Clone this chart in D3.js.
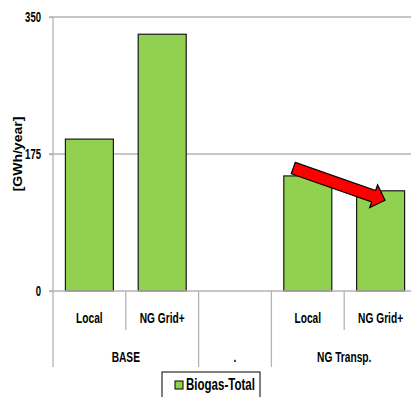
<!DOCTYPE html>
<html>
<head>
<meta charset="utf-8">
<script src="https://cdn.jsdelivr.net/npm/d3@7"></script>
<style>
  html, body { margin: 0; padding: 0; background: #fff; }
  svg { display: block; }
  text { font-family: "Liberation Sans", Arial, sans-serif; font-weight: bold; fill: #000; }
</style>
</head>
<body>
<svg id="chart" width="411" height="397"></svg>
<script>
// Biogas output per scenario and grid option
const categories = ["Local", "NG Grid+", "", "Local", "NG Grid+"];
const groups = [
  { name: "BASE", span: [0, 2] },
  { name: ".", span: [2, 3] },
  { name: "NG Transp.", span: [3, 5] }
];
const biogasTotal = [194, 328, null, 147, 128];
const yTicks = [0, 175, 350];
const seriesName = "Biogas-Total";
const yTitle = "[GWh/year]";
// trend arrow between the two NG Transp. bars: [category position, value]
const arrowFrom = [3.30, 157];
const arrowTo = [4.56, 116];

const svg = d3.select("#chart");
const W = 411, H = 397;
const m = { left: 53, top: 17, right: -6, bottom: 106 };
const x0 = m.left, x1 = W - m.right;
const yBase = H - m.bottom;
const squeeze = 0.68; // condensed lettering

const x = d3.scaleBand().domain(d3.range(categories.length)).range([x0, x1]);
const xPos = d3.scaleLinear().domain([0, categories.length]).range([x0, x1]);
const y = d3.scaleLinear().domain([0, 350]).range([yBase, m.top]);

// condensed text helper
function label(g, tx, ty, str, size, anchor, sx) {
  return g.append("text")
    .attr("transform", `translate(${tx},${ty}) scale(${sx || squeeze},1)`)
    .attr("text-anchor", anchor || "middle")
    .style("font-size", size + "px")
    .text(str);
}

const grey = "#b3b3b3";

// gridlines
svg.append("g").selectAll("line").data(yTicks.filter(d => d > 0)).join("line")
  .attr("x1", x0 - 4).attr("x2", x1).attr("y1", d => y(d)).attr("y2", d => y(d))
  .attr("stroke", grey).attr("stroke-width", 1.3);

// y axis
const yAxis = svg.append("g").attr("transform", `translate(${x0},0)`)
  .call(d3.axisLeft(y).tickValues(yTicks).tickSize(4).tickFormat(() => ""));
yAxis.select(".domain").attr("stroke", grey).attr("stroke-width", 1.3).attr("d", `M0,${y(350)}V${yBase}`);
yAxis.selectAll(".tick line").attr("stroke", grey).attr("stroke-width", 1.3);
const tickLabels = svg.append("g");
yTicks.forEach(t => label(tickLabels, x0 - 12, y(t) + 5, d3.format("d")(t), 14, "end"));

// y title
svg.append("text")
  .attr("transform", `translate(22,${(y(350) + yBase) / 2}) rotate(-90) scale(1,0.85)`)
  .attr("text-anchor", "middle").style("font-size", "14px")
  .text(yTitle);

// bars
const barW = 48;
svg.append("g").selectAll("rect").data(biogasTotal.map((v, i) => ({ v, i })).filter(d => d.v != null)).join("rect")
  .attr("x", d => x(d.i) + (x.bandwidth() - barW) / 2)
  .attr("width", barW)
  .attr("y", d => y(d.v))
  .attr("height", d => yBase - y(d.v))
  .attr("fill", "#92d050").attr("stroke", "#1a1a1a").attr("stroke-width", 1.2);

// bottom axis line
svg.append("line").attr("x1", x0 - 4).attr("x2", x1).attr("y1", yBase).attr("y2", yBase)
  .attr("stroke", grey).attr("stroke-width", 1.3);

// category dividers
const lvl1 = yBase + 39, lvl2 = yBase + 76;
svg.append("g").selectAll("line").data(d3.range(categories.length + 1)).join("line")
  .attr("x1", d => xPos(d)).attr("x2", d => xPos(d))
  .attr("y1", yBase).attr("y2", d => groups.some(g => g.span[0] === d || g.span[1] === d) ? lvl2 : lvl1)
  .attr("stroke", grey).attr("stroke-width", 1.3);

const catG = svg.append("g");
categories.forEach((c, i) => label(catG, x(i) + x.bandwidth() / 2, yBase + 32, c, 15));
const grpG = svg.append("g");
groups.forEach(g => label(grpG, (xPos(g.span[0]) + xPos(g.span[1])) / 2, yBase + 71, g.name, 15));

// trend arrow
(function () {
  const ax = xPos(arrowFrom[0]), ay = y(arrowFrom[1]);
  const bx = xPos(arrowTo[0]), by = y(arrowTo[1]);
  const len = Math.hypot(bx - ax, by - ay);
  const ang = Math.atan2(by - ay, bx - ax) * 180 / Math.PI;
  const sw = 6, hw = 12, hl = 12;
  const pts = [[0, -sw], [len - hl, -sw], [len - hl, -hw], [len, 0], [len - hl, hw], [len - hl, sw], [0, sw]];
  svg.append("polygon")
    .attr("points", pts.map(p => p.join(",")).join(" "))
    .attr("transform", `translate(${ax},${ay}) rotate(${ang})`)
    .attr("fill", "#ff0000").attr("stroke", "#000").attr("stroke-width", 1.2);
})();

// legend
const lg = svg.append("g").attr("transform", "translate(162,372)");
lg.append("rect").attr("width", 98).attr("height", 30).attr("fill", "#fff").attr("stroke", "#000").attr("stroke-width", 1);
lg.append("rect").attr("x", 13).attr("y", 9).attr("width", 8).attr("height", 8)
  .attr("fill", "#92d050").attr("stroke", "#000").attr("stroke-width", 1);
label(lg, 24, 17.5, seriesName, 16, "start", 0.72);
</script>
</body>
</html>
